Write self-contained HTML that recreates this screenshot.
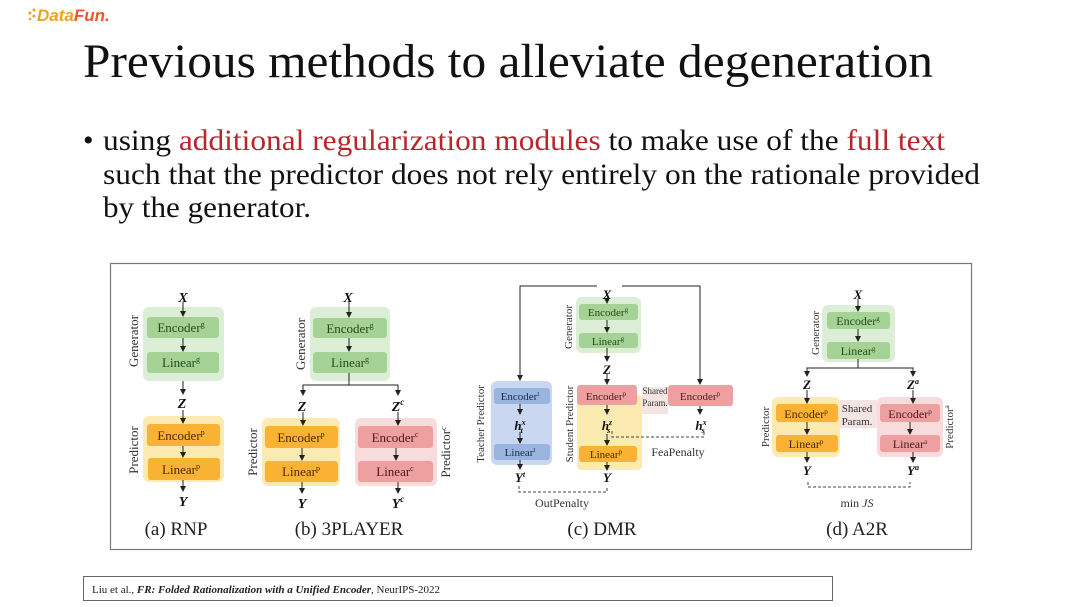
<!DOCTYPE html>
<html><head><meta charset="utf-8"><style>
html,body{margin:0;padding:0;background:#fff;}
svg{display:block;font-family:"Liberation Serif",serif;}
</style></head><body>
<svg width="1080" height="607" viewBox="0 0 1080 607" xmlns="http://www.w3.org/2000/svg">
<defs>
<marker id="ar" markerWidth="6" markerHeight="6" refX="5" refY="3" orient="auto" markerUnits="userSpaceOnUse"><path d="M0,0 L6,3 L0,6 z" fill="#222"/></marker>
</defs>
<rect width="1080" height="607" fill="#fff"/>
<!-- logo -->
<g fill="#f0a020"><circle cx="30" cy="13" r="1.5"/><circle cx="34" cy="10" r="1.5"/><circle cx="34" cy="16" r="1.5"/><circle cx="30" cy="19" r="1.3"/></g>
<text x="37" y="21" font-family="Liberation Sans,sans-serif" font-style="italic" font-weight="bold" font-size="17" fill="#f0a020">Data<tspan fill="#e8582a">Fun.</tspan></text>
<!-- title -->
<text x="83" y="77" font-size="48" fill="#111" textLength="850" lengthAdjust="spacingAndGlyphs">Previous methods to alleviate degeneration</text>
<text x="83" y="150" font-size="30" fill="#111">•</text>
<text x="103" y="150" font-size="30" fill="#111" textLength="842" lengthAdjust="spacingAndGlyphs">using <tspan fill="#b8262c">additional regularization modules</tspan> to make use of the <tspan fill="#b8262c">full text</tspan></text>
<text x="103" y="184" font-size="30" fill="#111" textLength="877" lengthAdjust="spacingAndGlyphs">such that the predictor does not rely entirely on the rationale provided</text>
<text x="103" y="217" font-size="30" fill="#111" textLength="208" lengthAdjust="spacingAndGlyphs">by the generator.</text>
<!-- figure frame -->
<rect x="110.5" y="263.5" width="861" height="286" fill="#fff" stroke="#777" stroke-width="1.2"/>
<!-- citation -->
<rect x="83.5" y="576.5" width="749" height="24" fill="#fff" stroke="#666" stroke-width="1"/>
<text x="92" y="593" font-size="11" fill="#222">Liu et al., <tspan font-weight="bold" font-style="italic">FR: Folded Rationalization with a Unified Encoder</tspan>, NeurIPS-2022</text>

<g font-size="13" text-anchor="middle" fill="#333">
<!-- (a) RNP -->
<rect x="143" y="307" width="81" height="74" rx="6" fill="#dcefd6"/>
<rect x="147" y="317" width="72" height="21" rx="3" fill="#a5d396"/>
<rect x="147" y="352" width="72" height="21" rx="3" fill="#a5d396"/>
<text x="181" y="332" fill="#244a1c">Encoder<tspan font-size="8" dy="-5">g</tspan></text>
<text x="181" y="367" fill="#244a1c">Linear<tspan font-size="8" dy="-5">g</tspan></text>
<rect x="143" y="416" width="81" height="66" rx="6" fill="#fdeab0"/>
<rect x="147" y="424" width="73" height="22" rx="3" fill="#f9b233"/>
<rect x="148" y="458" width="72" height="22" rx="3" fill="#f9b233"/>
<text x="181" y="440" fill="#4a2a00">Encoder<tspan font-size="8" dy="-5">p</tspan></text>
<text x="181" y="474" fill="#4a2a00">Linear<tspan font-size="8" dy="-5">p</tspan></text>
<g stroke="#222" stroke-width="1" marker-end="url(#ar)">
<line x1="183" y1="302" x2="183" y2="316"/><line x1="183" y1="338" x2="183" y2="351"/>
<line x1="183" y1="381" x2="183" y2="394"/><line x1="183" y1="410" x2="183" y2="423"/>
<line x1="183" y1="446" x2="183" y2="457"/><line x1="183" y1="480" x2="183" y2="491"/>
</g>
<g font-weight="bold" font-style="italic" font-size="14" fill="#111">
<text x="183" y="302">X</text><text x="182" y="408">Z</text><text x="183" y="506">Y</text></g>
<text transform="translate(138,341) rotate(-90)" font-size="13">Generator</text>
<text transform="translate(138,450) rotate(-90)" font-size="13">Predictor</text>
<text x="176" y="535" font-size="19" fill="#222">(a) RNP</text>

<!-- (b) 3PLAYER -->
<rect x="310" y="307" width="80" height="74" rx="6" fill="#dcefd6"/>
<rect x="313" y="318" width="74" height="20" rx="3" fill="#a5d396"/>
<rect x="313" y="352" width="74" height="21" rx="3" fill="#a5d396"/>
<text x="350" y="333" fill="#244a1c">Encoder<tspan font-size="8" dy="-5">g</tspan></text>
<text x="350" y="367" fill="#244a1c">Linear<tspan font-size="8" dy="-5">g</tspan></text>
<rect x="262" y="418" width="78" height="68" rx="6" fill="#fdeab0"/>
<rect x="265" y="426" width="73" height="22" rx="3" fill="#f9b233"/>
<rect x="265" y="461" width="73" height="21" rx="3" fill="#f9b233"/>
<text x="301" y="442" fill="#4a2a00">Encoder<tspan font-size="8" dy="-5">p</tspan></text>
<text x="301" y="476" fill="#4a2a00">Linear<tspan font-size="8" dy="-5">p</tspan></text>
<rect x="355" y="418" width="82" height="68" rx="6" fill="#f8dcdc"/>
<rect x="358" y="426" width="75" height="22" rx="3" fill="#eea0a0"/>
<rect x="358" y="461" width="75" height="21" rx="3" fill="#eea0a0"/>
<text x="395" y="442" fill="#4a1a1a">Encoder<tspan font-size="8" dy="-5">c</tspan></text>
<text x="395" y="476" fill="#4a1a1a">Linear<tspan font-size="8" dy="-5">c</tspan></text>
<polyline points="349,373 349,385 303,385 303,395" fill="none" stroke="#222" marker-end="url(#ar)"/>
<polyline points="349,385 398,385 398,395" fill="none" stroke="#222" marker-end="url(#ar)"/>
<g stroke="#222" stroke-width="1" marker-end="url(#ar)">
<line x1="349" y1="302" x2="349" y2="317"/><line x1="349" y1="338" x2="349" y2="351"/>
<line x1="303" y1="412" x2="303" y2="425"/><line x1="398" y1="412" x2="398" y2="425"/>
<line x1="302" y1="448" x2="302" y2="460"/><line x1="396" y1="448" x2="396" y2="460"/>
<line x1="302" y1="482" x2="302" y2="493"/><line x1="398" y1="482" x2="398" y2="493"/>
</g>
<g font-weight="bold" font-style="italic" font-size="14" fill="#111">
<text x="348" y="302">X</text><text x="302" y="411">Z</text><text x="398" y="411">Z<tspan font-size="9" dy="-6">c</tspan></text>
<text x="302" y="508">Y</text><text x="398" y="508">Y<tspan font-size="9" dy="-6">c</tspan></text></g>
<text transform="translate(305,344) rotate(-90)">Generator</text>
<text transform="translate(257,452) rotate(-90)">Predictor</text>
<text transform="translate(450,452) rotate(-90)">Predictor<tspan font-size="8" dy="-4">c</tspan></text>
<text x="349" y="535" font-size="19" fill="#222">(b) 3PLAYER</text>

<!-- (c) DMR -->
<polyline points="597,286 520,286 520,380" fill="none" stroke="#222" marker-end="url(#ar)"/>
<polyline points="622,286 700,286 700,384" fill="none" stroke="#222" marker-end="url(#ar)"/>
<rect x="576" y="297" width="65" height="56" rx="6" fill="#dcefd6"/>
<rect x="579" y="304" width="59" height="16" rx="3" fill="#a5d396"/>
<rect x="579" y="333" width="59" height="15" rx="3" fill="#a5d396"/>
<text x="608" y="316" font-size="11" fill="#244a1c">Encoder<tspan font-size="7" dy="-4">g</tspan></text>
<text x="608" y="345" font-size="11" fill="#244a1c">Linear<tspan font-size="7" dy="-4">g</tspan></text>
<rect x="491" y="381" width="61" height="84" rx="6" fill="#c9d8f0"/>
<rect x="494" y="388" width="56" height="16" rx="3" fill="#9ab4e0"/>
<rect x="494" y="444" width="56" height="16" rx="3" fill="#9ab4e0"/>
<text x="520" y="400" font-size="11" fill="#1a2a4a">Encoder<tspan font-size="7" dy="-4">t</tspan></text>
<text x="520" y="456" font-size="11" fill="#1a2a4a">Linear<tspan font-size="7" dy="-4">t</tspan></text>
<rect x="577" y="395" width="65" height="75" rx="4" fill="#fdeab0"/>
<rect x="577" y="385" width="60" height="20" rx="3" fill="#eea0a0"/>
<rect x="579" y="446" width="58" height="16" rx="3" fill="#f9b233"/>
<text x="606" y="400" font-size="11" fill="#4a1a1a">Encoder<tspan font-size="7" dy="-4">p</tspan></text>
<text x="606" y="458" font-size="11" fill="#4a2a00">Linear<tspan font-size="7" dy="-4">p</tspan></text>
<rect x="642" y="387" width="26" height="27" fill="#f4e4e4"/>
<text x="655" y="394" font-size="9">Shared</text><text x="655" y="406" font-size="9">Param.</text>
<rect x="668" y="385" width="65" height="21" rx="3" fill="#eea0a0"/>
<text x="700" y="400" font-size="11" fill="#4a1a1a">Encoder<tspan font-size="7" dy="-4">p</tspan></text>
<g stroke="#222" stroke-width="1" marker-end="url(#ar)">
<line x1="607" y1="300" x2="607" y2="303"/><line x1="607" y1="320" x2="607" y2="332"/>
<line x1="607" y1="348" x2="607" y2="361"/><line x1="607" y1="373" x2="607" y2="384"/>
<line x1="607" y1="405" x2="607" y2="414"/><line x1="607" y1="434" x2="607" y2="445"/>
<line x1="607" y1="462" x2="607" y2="470"/>
<line x1="520" y1="404" x2="520" y2="414"/><line x1="520" y1="432" x2="520" y2="443"/>
<line x1="520" y1="460" x2="520" y2="469"/>
<line x1="700" y1="406" x2="700" y2="414"/>
</g>
<g font-weight="bold" font-style="italic" font-size="13" fill="#111">
<text x="607" y="299">X</text><text x="607" y="374">Z</text>
<text x="520" y="430">h<tspan font-size="8" dy="-5">x</tspan><tspan font-size="8" dx="-5" dy="8">t</tspan></text>
<text x="607" y="430">h<tspan font-size="8" dy="-5">z</tspan><tspan font-size="8" dx="-5" dy="8">s</tspan></text>
<text x="701" y="430">h<tspan font-size="8" dy="-5">x</tspan><tspan font-size="8" dx="-5" dy="8">s</tspan></text>
<text x="520" y="482">Y<tspan font-size="8" dy="-5">t</tspan></text><text x="607" y="482">Y</text></g>
<g fill="none" stroke="#444" stroke-dasharray="3,2">
<polyline points="612,431 612,437 704,437 704,431"/>
<polyline points="519,486 519,492 607,492 607,486"/>
</g>
<text x="678" y="456" font-size="12">FeaPenalty</text>
<text x="562" y="507" font-size="12">OutPenalty</text>
<text transform="translate(484,424) rotate(-90)" font-size="11">Teacher Predictor</text>
<text transform="translate(573,424) rotate(-90)" font-size="11">Student Predictor</text>
<text transform="translate(572,327) rotate(-90)" font-size="11">Generator</text>
<text x="602" y="535" font-size="19" fill="#222">(c) DMR</text>

<!-- (d) A2R -->
<rect x="822" y="305" width="73" height="57" rx="6" fill="#dcefd6"/>
<rect x="827" y="312" width="63" height="17" rx="3" fill="#a5d396"/>
<rect x="827" y="342" width="63" height="17" rx="3" fill="#a5d396"/>
<text x="858" y="325" font-size="12" fill="#244a1c">Encoder<tspan font-size="7" dy="-4">g</tspan></text>
<text x="858" y="355" font-size="12" fill="#244a1c">Linear<tspan font-size="7" dy="-4">g</tspan></text>
<rect x="772" y="397" width="68" height="60" rx="6" fill="#fdeab0"/>
<rect x="776" y="404" width="62" height="18" rx="3" fill="#f9b233"/>
<rect x="776" y="435" width="62" height="17" rx="3" fill="#f9b233"/>
<text x="806" y="418" font-size="12" fill="#4a2a00">Encoder<tspan font-size="7" dy="-4">p</tspan></text>
<text x="806" y="448" font-size="12" fill="#4a2a00">Linear<tspan font-size="7" dy="-4">p</tspan></text>
<rect x="840" y="400" width="37" height="28" fill="#f4e4e4"/>
<text x="857" y="412" font-size="11">Shared</text><text x="857" y="425" font-size="11">Param.</text>
<rect x="877" y="397" width="66" height="60" rx="6" fill="#f8dcdc"/>
<rect x="880" y="404" width="60" height="18" rx="3" fill="#eea0a0"/>
<rect x="880" y="435" width="60" height="17" rx="3" fill="#eea0a0"/>
<text x="910" y="418" font-size="12" fill="#4a1a1a">Encoder<tspan font-size="7" dy="-4">p</tspan></text>
<text x="910" y="448" font-size="12" fill="#4a1a1a">Linear<tspan font-size="7" dy="-4">a</tspan></text>
<polyline points="858,359 858,368 807,368 807,376" fill="none" stroke="#222" marker-end="url(#ar)"/>
<polyline points="858,368 913,368 913,376" fill="none" stroke="#222" marker-end="url(#ar)"/>
<g stroke="#222" stroke-width="1" marker-end="url(#ar)">
<line x1="858" y1="299" x2="858" y2="311"/><line x1="858" y1="329" x2="858" y2="341"/>
<line x1="807" y1="390" x2="807" y2="403"/><line x1="913" y1="390" x2="913" y2="403"/>
<line x1="807" y1="422" x2="807" y2="434"/><line x1="910" y1="422" x2="910" y2="434"/>
<line x1="807" y1="452" x2="807" y2="462"/><line x1="913" y1="452" x2="913" y2="462"/>
</g>
<g font-weight="bold" font-style="italic" font-size="13" fill="#111">
<text x="858" y="299">X</text><text x="807" y="389">Z</text><text x="913" y="389">Z<tspan font-size="8" dy="-5">a</tspan></text>
<text x="807" y="475">Y</text><text x="913" y="475">Y<tspan font-size="8" dy="-5">a</tspan></text></g>
<polyline points="808,482 808,487 910,487 910,482" fill="none" stroke="#444" stroke-dasharray="3,2"/>
<text x="857" y="507" font-size="12">min <tspan font-style="italic">JS</tspan></text>
<text transform="translate(819,333) rotate(-90)" font-size="11">Generator</text>
<text transform="translate(769,427) rotate(-90)" font-size="11">Predictor</text>
<text transform="translate(953,427) rotate(-90)" font-size="11">Predictor<tspan font-size="7" dy="-4">a</tspan></text>
<text x="857" y="535" font-size="19" fill="#222">(d) A2R</text>
</g>
</svg>
</body></html>
